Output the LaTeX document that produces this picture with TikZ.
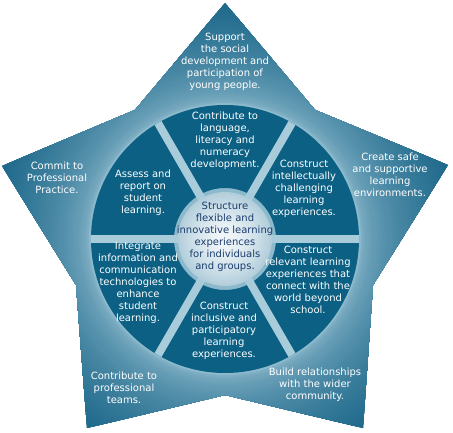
\documentclass[tikz,border=0pt]{standalone}
\usepackage{fontspec}
\setmainfont{DejaVu Sans}
\definecolor{sectorblue}{RGB}{11,96,131}
\definecolor{halolight}{RGB}{168,204,218}
\definecolor{haloedge}{RGB}{140,185,204}
\definecolor{stardark}{RGB}{32,106,140}
\definecolor{hubtext}{RGB}{27,60,110}
\definecolor{hubin}{RGB}{242,247,249}
\definecolor{hubout}{RGB}{178,206,219}

\begin{document}
\begin{tikzpicture}[x=1pt,y=-1pt,
  outer text/.style={align=center,text=white,inner sep=0pt,font=\fontsize{10}{12}\selectfont},
  hub text/.style={outer text,text=hubtext}]
\useasboundingbox (0,0) rectangle (453,433);
\coordinate (hubc) at (225,239);
% star with its halo, darker towards the points
\begin{scope}
\clip (225,3) -- (315,110) -- (448,165) -- (373,285) -- (363,428) -- (225,395)
  -- (87,428) -- (76,285) -- (2,166) -- (135,110) -- cycle;
\foreach \r in {240,238,...,134} {
  \pgfmathtruncatemacro\p{100*sqrt(max(0,min(1,(\r-136)/96)))}
  \fill[stardark!\p!haloedge] (hubc) circle (\r pt);
}
\end{scope}
% ring of six parts
\fill[sectorblue,even odd rule] (hubc) circle (134pt) (hubc) circle (51pt);
\foreach \a in {0,60,120}
  \draw[halolight,line width=8pt] ([shift={(\a:134pt)}]hubc) -- ([shift={(\a+180:134pt)}]hubc);
\foreach \r in {47,45,...,1} {
  \pgfmathtruncatemacro\p{100*(\r/47)^1.5}
  \fill[hubout!\p!hubin] (hubc) circle (\r pt);
}
% star points
\node[outer text] (social) at (225,62) {Support\\the social\\development and\\participation of\\young people.};
\node[outer text] (practice) at (57,178) {Commit to\\Professional\\Practice.};
\node[outer text] (safe) at (390,175) {Create safe\\and supportive\\learning\\environments.};
\node[outer text] (teams) at (124,388) {Contribute to\\professional\\teams.};
\node[outer text] (community) at (315,385) {Build relationships\\with the wider\\community.};
% ring parts
\node[outer text] (literacy) at (225,141) {Contribute to\\language,\\literacy and\\numeracy\\development.};
\node[outer text] (challenge) at (304,189) {Construct\\intellectually\\challenging\\learning\\experiences.};
\node[outer text] (relevant) at (308,280) {Construct\\relevant learning\\experiences that\\connect with the\\world beyond\\school.};
\node[outer text] (inclusive) at (224,331) {Construct\\inclusive and\\participatory\\learning\\experiences.};
\node[outer text] (ict) at (138,283) {Integrate\\information and\\communication\\technologies to\\enhance\\student\\learning.};
\node[outer text] (assess) at (143,193) {Assess and\\report on\\student\\learning.};
% centre
\node[hub text] (structure) at (225,237) {Structure\\flexible and\\innovative learning\\experiences\\for individuals\\and groups.};
\end{tikzpicture}
\end{document}
